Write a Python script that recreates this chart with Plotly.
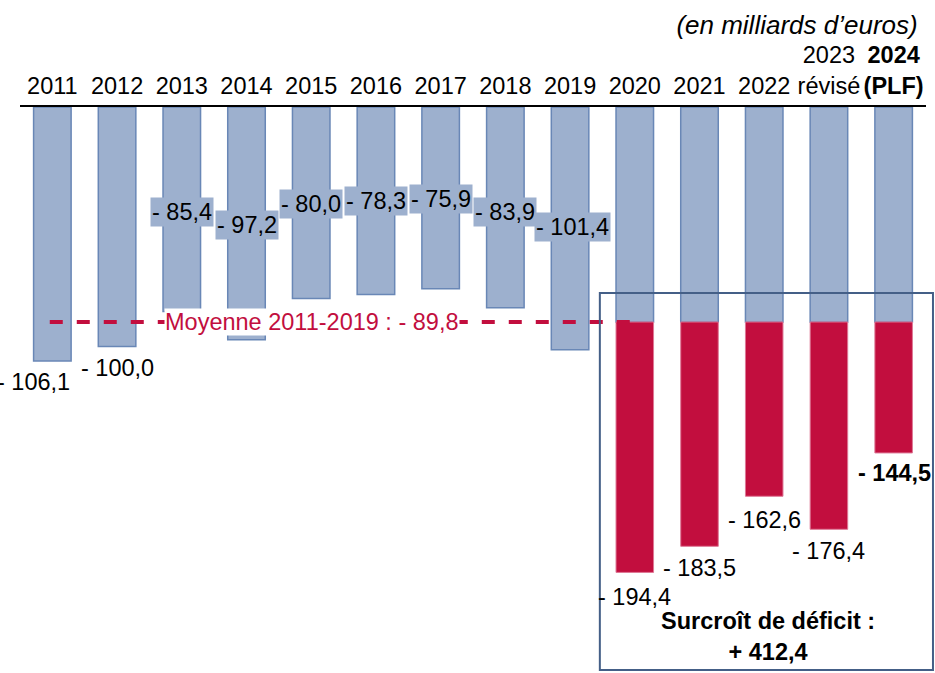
import numpy as np
import plotly.graph_objects as go

# ---- data ----
years = ["2011", "2012", "2013", "2014", "2015", "2016", "2017", "2018", "2019",
         "2020", "2021", "2022", "2023", "2024"]
tick_labels = ["2011", "2012", "2013", "2014", "2015", "2016", "2017", "2018", "2019",
               "2020", "2021", "2022", "2023<br>révisé", "<b>2024</b><br><b>(PLF)</b>"]
deficit = [-106.1, -100.0, -85.4, -97.2, -80.0, -78.3, -75.9, -83.9, -101.4,
           -194.4, -183.5, -162.6, -176.4, -144.5]
value_labels = ["- 106,1", "- 100,0", "- 85,4", "- 97,2", "- 80,0", "- 78,3", "- 75,9",
                "- 83,9", "- 101,4", "- 194,4", "- 183,5", "- 162,6", "- 176,4", "<b>- 144,5</b>"]
n_ref = 9  # 2011-2019 reference period

# ---- derived ----
xpos = list(range(len(years)))
avg = round(float(np.mean(deficit[:n_ref])), 1)
blue_part = [v if i < n_ref else avg for i, v in enumerate(deficit)]
red_part = [None if i < n_ref else round(v - avg, 1) for i, v in enumerate(deficit)]
surplus = round(abs(sum(v for v in red_part if v is not None)), 1)

def fr(x):
    return f"{x:.1f}".replace(".", ",")

# ---- styles ----
FONT = "Liberation Sans, Arial, sans-serif"
FS = 23.5
BLUE = "rgb(157,176,206)"
BLUE_EDGE = "rgb(105,135,182)"
RED = "rgb(194,14,62)"
RED_EDGE = "rgb(222,120,150)"

# label offsets (px) relative to bar end: (xshift, yshift, background)
label_offsets = [(-19, -21, None), (0, -22, None), (0, 99, BLUE), (0, 115, BLUE),
                 (0, 95, BLUE), (0, 93, BLUE), (0, 90, BLUE), (0, 96, BLUE),
                 (2, 123, BLUE), (0, -25, None), (0, -22, None), (0, -24, None),
                 (0, -22, None), (1, -20, None)]

fig = go.Figure()
fig.add_trace(go.Bar(x=xpos, y=blue_part, marker=dict(color=BLUE, line=dict(color=BLUE_EDGE, width=1.5)),
                     hoverinfo="skip"))
fig.add_trace(go.Bar(x=xpos, y=red_part, marker=dict(color=RED, line=dict(color=RED_EDGE, width=1)),
                     hoverinfo="skip"))

annotations = []
for i, (xp, v, lab) in enumerate(zip(xpos, deficit, value_labels)):
    xs, ys, bg = label_offsets[i]
    annotations.append(dict(x=xp, y=v, xref="x", yref="y", text=lab, showarrow=False,
                            xshift=xs, yshift=ys, font=dict(family=FONT, size=FS, color="black"),
                            bgcolor=bg if bg else "rgba(0,0,0,0)", borderpad=1,
                            xanchor="center", yanchor="middle"))

# average label (white background hides the dashed line)
annotations.append(dict(x=4, y=avg, xref="x", yref="y",
                        text=f"Moyenne {years[0]}-{years[n_ref-1]} : - {fr(-avg)}",
                        showarrow=False, xshift=1, font=dict(family=FONT, size=FS, color=RED),
                        bgcolor="white", borderpad=0, xanchor="center", yanchor="middle"))
# surplus text
annotations.append(dict(x=0.8256, y=0.0637, xref="paper", yref="paper",
                        text=f"<b>Surcroît de déficit :<br>+ {fr(surplus)}</b>",
                        showarrow=False, font=dict(family=FONT, size=FS, color="black"),
                        xanchor="center", yanchor="middle"))

shapes = [
    dict(type="line", xref="x", yref="y", x0=-0.04, x1=8.93, y0=avg, y1=avg,
         line=dict(color=RED, width=4, dash="13px,14px"), layer="above"),
    dict(type="rect", xref="paper", yref="paper", x0=0.640, x1=1.0077, y0=0.0035, y1=0.6708,
         line=dict(color="rgb(68,95,135)", width=2), fillcolor="rgba(0,0,0,0)", layer="above"),
]

fig.update_layout(
    width=935, height=673,
    margin=dict(l=20, r=9, t=107, b=1),
    barmode="relative", bargap=0.42,
    showlegend=False,
    plot_bgcolor="white", paper_bgcolor="white",
    font=dict(family=FONT, size=FS, color="black"),
    title=dict(text="<i>(en milliards d’euros)</i>", x=0.9815, xanchor="right",
               y=1 - 25 / 673, yanchor="middle", yref="container",
               font=dict(family=FONT, size=26, color="black")),
    xaxis=dict(range=[-0.5, len(years) - 0.5], side="top", showline=True, linecolor="black", linewidth=2,
               tickmode="array", tickvals=xpos, ticktext=tick_labels, tickangle=0,
               ticks="outside", ticklen=2, tickcolor="rgba(0,0,0,0)",
               showgrid=False, zeroline=False, tickfont=dict(family=FONT, size=FS, color="black")),
    yaxis=dict(range=[-236, 0], visible=False, showgrid=False, zeroline=False),
    annotations=annotations,
    shapes=shapes,
)

# remove the default page margin so the figure fills the window exactly
fig.write_html("out.html", config={"displayModeBar": False},
               post_script="document.body.style.margin='0';")
